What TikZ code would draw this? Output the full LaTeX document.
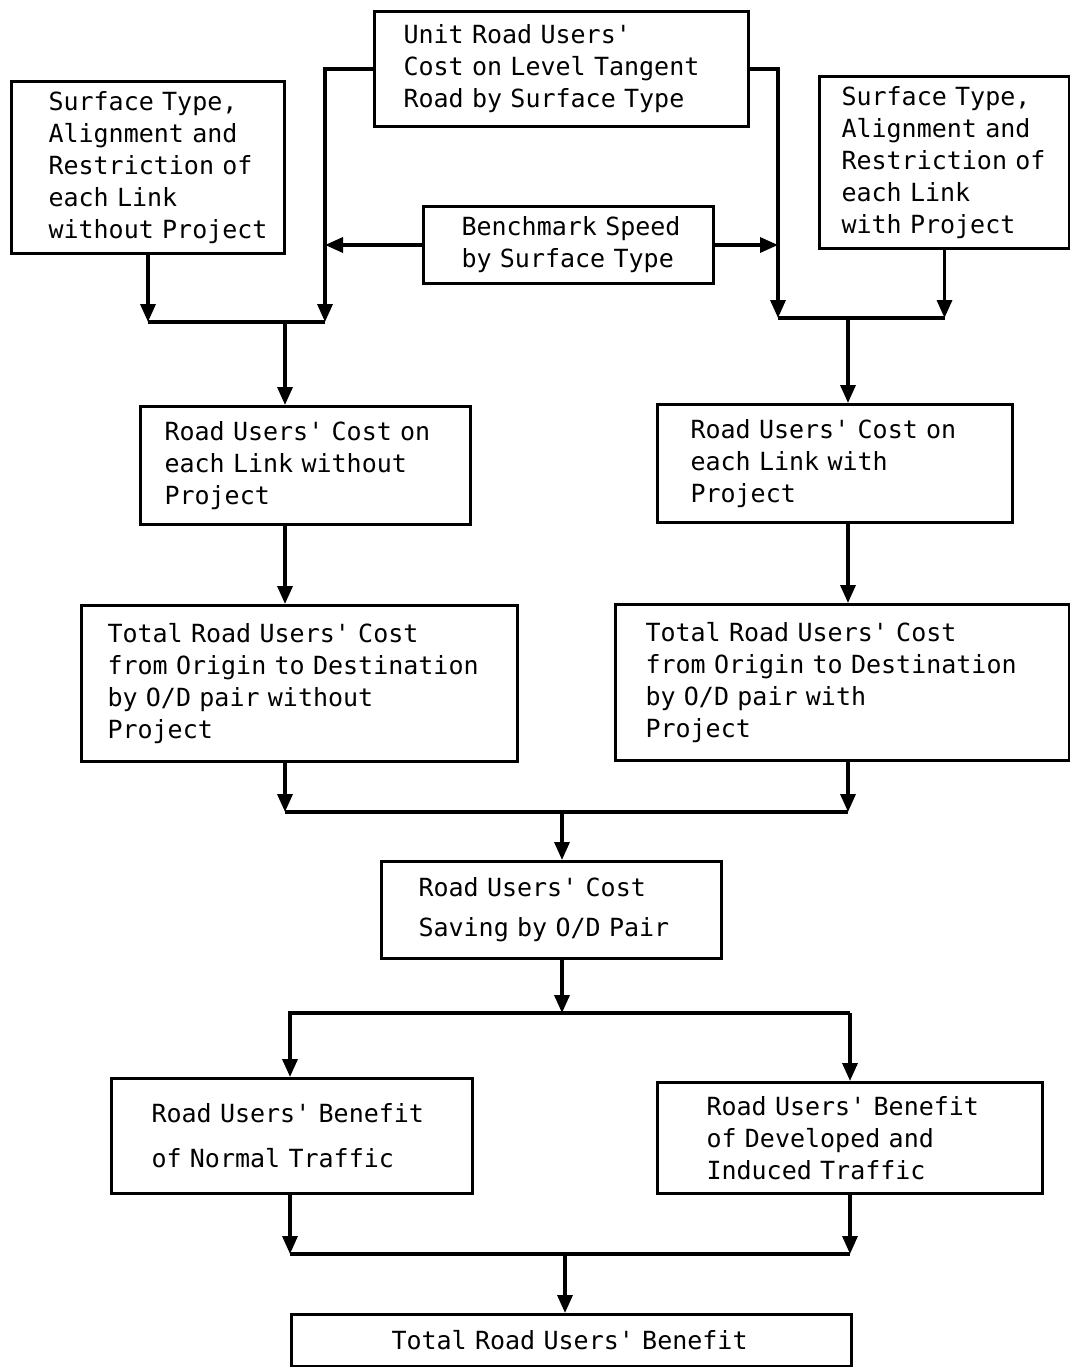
\documentclass[tikz,border=0pt]{standalone}
\usepackage{fontspec}
\setmonofont{DejaVu Sans Mono}
\usepackage{tikz}
\usetikzlibrary{arrows.meta}

\tikzset{
    blk/.style={draw, line width=3pt, rectangle, anchor=north west, align=left,
        inner xsep=0pt, inner ysep=0pt, font=\ttfamily\fontsize{25}{32}\selectfont},
    arr/.style={line width=3.4pt, -{Triangle[length=18pt,width=15pt]}},
    lnk/.style={line width=3.4pt}
}

\begin{document}
\begin{tikzpicture}[x=1pt, y=-1pt]
                \useasboundingbox (0,0) rectangle (1070,1367);
                % Inputs
                \node[blk, text width=374pt, minimum height=115pt] (unit) at (373,10)
                    {\leftskip=29pt Unit Road Users'\\Cost on Level Tangent\\Road by Surface Type\par};
                \node[blk, text width=273pt, minimum height=172pt] (surfl) at (10,80)
                    {\leftskip=37pt Surface Type,\\Alignment and\\Restriction of\\each Link\\without Project\par};
                \node[blk, text width=250pt, minimum height=172pt] (surfr) at (818,75)
                    {\leftskip=22pt Surface Type,\\Alignment and\\Restriction of\\each Link\\with Project\par};
                \node[blk, text width=290pt, minimum height=77pt] (bench) at (422,205)
                    {\leftskip=38pt Benchmark Speed\\by Surface Type\par};
                % Link costs
                \node[blk, text width=330pt, minimum height=118pt] (rucl) at (139,405)
                    {\leftskip=24pt Road Users' Cost on\\each Link without\\Project\par};
                \node[blk, text width=355pt, minimum height=118pt] (rucr) at (656,403)
                    {\leftskip=33pt Road Users' Cost on\\each Link with\\Project\par};
                % O/D costs
                \node[blk, text width=436pt, minimum height=156pt] (totl) at (80,604)
                    {\leftskip=26pt Total Road Users' Cost\\from Origin to Destination\\by O/D pair without\\Project\par};
                \node[blk, text width=454pt, minimum height=156pt] (totr) at (614,603)
                    {\leftskip=30pt Total Road Users' Cost\\from Origin to Destination\\by O/D pair with\\Project\par};
                % Saving and benefits
                \node[blk, text width=340pt, minimum height=97pt] (save) at (380,860)
                    {\leftskip=37pt Road Users' Cost\\[8pt]Saving by O/D Pair\par};
                \node[blk, text width=361pt, minimum height=115pt] (bnorm) at (110,1077)
                    {\leftskip=40pt Road Users' Benefit\\[13pt]of Normal Traffic\par};
                \node[blk, text width=385pt, minimum height=111pt] (bdev) at (656,1081)
                    {\leftskip=49pt Road Users' Benefit\\of Developed and\\Induced Traffic\par};
                \node[blk, text width=560pt, minimum height=52pt] (totb) at (290,1313)
                    {\leftskip=100pt Total Road Users' Benefit\par};
                % Junctions
                \coordinate (jl) at (325,322);
                \coordinate (jr) at (778,318);
                \coordinate (ml) at (285,322);
                \coordinate (mr) at (848,318);
                \coordinate (jb) at (562,812);
                \coordinate (sl) at (290,1013);
                \coordinate (sr) at (850,1013);
                \coordinate (jt) at (565,1254);
                % Top connectors
                \draw[arr] (unit.west) -| (jl);
                \draw[arr] (unit.east) -| (jr);
                \draw[arr] (bench.west) -- (bench.west -| jl);
                \draw[arr] (bench.east) -- (bench.east -| jr);
                \draw[arr] (surfl.south) -- (surfl.south |- jl);
                \draw[arr] (surfr.south) -- (surfr.south |- jr);
                \draw[lnk] (surfl.south |- jl) -- (jl);
                \draw[lnk] (jr) -- (surfr.south |- jr);
                \draw[arr] (ml) -- (ml |- rucl.north);
                \draw[arr] (mr) -- (mr |- rucr.north);
                \draw[arr] (ml |- rucl.south) -- (ml |- totl.north);
                \draw[arr] (mr |- rucr.south) -- (mr |- totr.north);
                % Merge to saving
                \draw[arr] (ml |- totl.south) -- (ml |- jb);
                \draw[arr] (mr |- totr.south) -- (mr |- jb);
                \draw[lnk] (ml |- jb) -- (mr |- jb);
                \draw[arr] (jb) -- (jb |- save.north);
                % Split to benefits
                \draw[arr] (jb |- save.south) -- (jb |- sl);
                \draw[arr] (sr) -| (sl |- bnorm.north);
                \draw[arr] (sr) -- (sr |- bdev.north);
                % Merge to total
                \draw[arr] (sl |- bnorm.south) -- (sl |- jt);
                \draw[arr] (sr |- bdev.south) -- (sr |- jt);
                \draw[lnk] (sl |- jt) -- (sr |- jt);
                \draw[arr] (jt) -- (jt |- totb.north);
            \end{tikzpicture}
\end{document}
